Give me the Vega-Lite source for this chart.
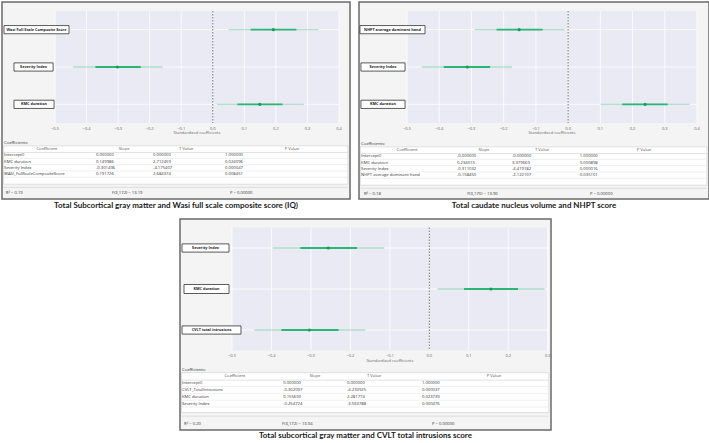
{
"$schema":"https://vega.github.io/schema/vega-lite/v6.json",
"padding":{"left":1,"top":1,"right":0,"bottom":0},
"background":"white",
"spacing":7,
"config":{"view":{"stroke":null},"font":"Open Sans"},
"vconcat":[
{"spacing":7,"hconcat":[
{
"width":348,"height":197,
"view":{"fill":"#f4f4f4","stroke":"#6a6a6a","strokeWidth":1.5},
"title":{"text":"Total Subcortical gray matter and Wasi full scale composite score (IQ)","orient":"bottom","anchor":"middle","font":"Lato","fontSize":8,"fontWeight":"bold","color":"#1a1a1a","offset":3},
"resolve":{"scale":{"x":"independent","y":"independent"}},
"layer":[
{"data":{"values":[
{"label":"Wasi Full Scale Composite Score","pos":1,"coef":0.192,"lo50":0.12,"hi50":0.265,"lo95":0.05,"hi95":0.335},
{"label":"Severity Index","pos":2,"coef":-0.302,"lo50":-0.372,"hi50":-0.228,"lo95":-0.443,"hi95":-0.159},
{"label":"KMC duration","pos":3,"coef":0.149,"lo50":0.078,"hi50":0.221,"lo95":0.013,"hi95":0.289}]},
"layer":[
{"data":{"values":[{}]},"mark":{"type":"rect","color":"#eaeaf4"},"encoding":{"x":{"datum":-0.5,"type":"quantitative","scale":{"domain":[-0.5,0.4],"range":[53,337],"nice":false,"zero":false},"axis":null},"x2":{"datum":0.4},"y":{"datum":0.5,"type":"quantitative","scale":{"domain":[0.5,3.5],"range":[9,121],"nice":false,"zero":false},"axis":null},"y2":{"datum":3.5}}},
{"data":{"values":[{"t":-0.5},{"t":-0.4},{"t":-0.3},{"t":-0.2},{"t":-0.1},{"t":0},{"t":0.1},{"t":0.2},{"t":0.3},{"t":0.4}]},"layer":[
{"mark":{"type":"rule","color":"#ffffff","strokeWidth":0.8},"encoding":{"x":{"field":"t","type":"quantitative","scale":{"domain":[-0.5,0.4],"range":[53,337],"nice":false,"zero":false},"axis":null},"y":{"datum":0.5,"type":"quantitative","scale":{"domain":[0.5,3.5],"range":[9,121],"nice":false,"zero":false},"axis":null},"y2":{"datum":3.5}}},
{"mark":{"type":"text","font":"Open Sans","fontSize":4,"color":"#666666","baseline":"top","dy":3.5},"encoding":{"x":{"field":"t","type":"quantitative","scale":{"domain":[-0.5,0.4],"range":[53,337],"nice":false,"zero":false},"axis":null},"y":{"datum":3.5,"type":"quantitative","scale":{"domain":[0.5,3.5],"range":[9,121],"nice":false,"zero":false},"axis":null},"text":{"field":"t","type":"quantitative","format":".1f"}}}]},
{"data":{"values":[{"txt":"Standardized coefficients"}]},"mark":{"type":"text","font":"Open Sans","fontSize":4,"color":"#666666","baseline":"top","dy":8},"encoding":{"x":{"datum":-0.05,"type":"quantitative","scale":{"domain":[-0.5,0.4],"range":[53,337],"nice":false,"zero":false},"axis":null},"y":{"datum":3.5,"type":"quantitative","scale":{"domain":[0.5,3.5],"range":[9,121],"nice":false,"zero":false},"axis":null},"text":{"field":"txt"}}},
{"mark":{"type":"rule","color":"#ffffff","strokeWidth":0.8},"encoding":{"x":{"datum":-0.5,"type":"quantitative","scale":{"domain":[-0.5,0.4],"range":[53,337],"nice":false,"zero":false},"axis":null},"x2":{"datum":0.4},"y":{"field":"pos","type":"quantitative","scale":{"domain":[0.5,3.5],"range":[9,121],"nice":false,"zero":false},"axis":null}}},
{"data":{"values":[{}]},"mark":{"type":"rule","color":"#555555","strokeWidth":0.8,"strokeDash":[1.5,1.5]},"encoding":{"x":{"datum":0,"type":"quantitative","scale":{"domain":[-0.5,0.4],"range":[53,337],"nice":false,"zero":false},"axis":null},"y":{"datum":0.5,"type":"quantitative","scale":{"domain":[0.5,3.5],"range":[9,121],"nice":false,"zero":false},"axis":null},"y2":{"datum":3.5}}},
{"mark":{"type":"rule","color":"#2bb673","opacity":0.35,"strokeWidth":1.3},"encoding":{"x":{"field":"lo95","type":"quantitative","scale":{"domain":[-0.5,0.4],"range":[53,337],"nice":false,"zero":false},"axis":null},"x2":{"field":"hi95"},"y":{"field":"pos","type":"quantitative","scale":{"domain":[0.5,3.5],"range":[9,121],"nice":false,"zero":false},"axis":null}}},
{"mark":{"type":"rule","color":"#2bb673","strokeWidth":1.8},"encoding":{"x":{"field":"lo50","type":"quantitative","scale":{"domain":[-0.5,0.4],"range":[53,337],"nice":false,"zero":false},"axis":null},"x2":{"field":"hi50"},"y":{"field":"pos","type":"quantitative","scale":{"domain":[0.5,3.5],"range":[9,121],"nice":false,"zero":false},"axis":null}}},
{"mark":{"type":"point","filled":true,"size":10,"opacity":1,"color":"#149d5a"},"encoding":{"x":{"field":"coef","type":"quantitative","scale":{"domain":[-0.5,0.4],"range":[53,337],"nice":false,"zero":false},"axis":null},"y":{"field":"pos","type":"quantitative","scale":{"domain":[0.5,3.5],"range":[9,121],"nice":false,"zero":false},"axis":null}}},
{"transform":[{"filter":"datum.pos == 1"}],"layer":[
{"mark":{"type":"rect","fill":"#ffffff","stroke":"#333333","strokeWidth":0.8},"encoding":{"x":{"datum":-0.6616,"type":"quantitative","scale":{"domain":[-0.5,0.4],"range":[53,337],"nice":false,"zero":false},"axis":null},"x2":{"datum":-0.4556},"y":{"datum":0.89,"type":"quantitative","scale":{"domain":[0.5,3.5],"range":[9,121],"nice":false,"zero":false},"axis":null},"y2":{"datum":1.11}}},
{"mark":{"type":"text","font":"Open Sans","fontSize":3.8,"fontWeight":"bold","color":"#222222","baseline":"middle"},"encoding":{"x":{"datum":-0.5586,"type":"quantitative","scale":{"domain":[-0.5,0.4],"range":[53,337],"nice":false,"zero":false},"axis":null},"y":{"field":"pos","type":"quantitative","scale":{"domain":[0.5,3.5],"range":[9,121],"nice":false,"zero":false},"axis":null},"text":{"field":"label"}}}]},
{"transform":[{"filter":"datum.pos == 2"}],"layer":[
{"mark":{"type":"rect","fill":"#ffffff","stroke":"#333333","strokeWidth":0.8},"encoding":{"x":{"datum":-0.630,"type":"quantitative","scale":{"domain":[-0.5,0.4],"range":[53,337],"nice":false,"zero":false},"axis":null},"x2":{"datum":-0.506},"y":{"datum":1.89,"type":"quantitative","scale":{"domain":[0.5,3.5],"range":[9,121],"nice":false,"zero":false},"axis":null},"y2":{"datum":2.11}}},
{"mark":{"type":"text","font":"Open Sans","fontSize":3.8,"fontWeight":"bold","color":"#222222","baseline":"middle"},"encoding":{"x":{"datum":-0.568,"type":"quantitative","scale":{"domain":[-0.5,0.4],"range":[53,337],"nice":false,"zero":false},"axis":null},"y":{"field":"pos","type":"quantitative","scale":{"domain":[0.5,3.5],"range":[9,121],"nice":false,"zero":false},"axis":null},"text":{"field":"label"}}}]},
{"transform":[{"filter":"datum.pos == 3"}],"layer":[
{"mark":{"type":"rect","fill":"#ffffff","stroke":"#333333","strokeWidth":0.8},"encoding":{"x":{"datum":-0.630,"type":"quantitative","scale":{"domain":[-0.5,0.4],"range":[53,337],"nice":false,"zero":false},"axis":null},"x2":{"datum":-0.503},"y":{"datum":2.89,"type":"quantitative","scale":{"domain":[0.5,3.5],"range":[9,121],"nice":false,"zero":false},"axis":null},"y2":{"datum":3.11}}},
{"mark":{"type":"text","font":"Open Sans","fontSize":3.8,"fontWeight":"bold","color":"#222222","baseline":"middle"},"encoding":{"x":{"datum":-0.5665,"type":"quantitative","scale":{"domain":[-0.5,0.4],"range":[53,337],"nice":false,"zero":false},"axis":null},"y":{"field":"pos","type":"quantitative","scale":{"domain":[0.5,3.5],"range":[9,121],"nice":false,"zero":false},"axis":null},"text":{"field":"label"}}}]}
]},
{"data":{"values":[
{"i":-1,"coefficient":"Coefficients:"},
{"i":0,"coefficient":"Coefficient","slope":"Slope","t":"T Value","p":"P Value"},
{"i":1,"coefficient":"Intercept()","slope":"0.000000","t":"0.000000","p":"1.000000"},
{"i":2,"coefficient":"KMC duration","slope":"0.149986","t":"2.712459","p":"0.024096"},
{"i":3,"coefficient":"Severity Index","slope":"-0.301496","t":"-4.175407","p":"0.000047"},
{"i":4,"coefficient":"WASI_FullScaleCompositeScore","slope":"0.191726","t":"2.684374","p":"0.008451"}]},
"layer":[
{"data":{"values":[{}]},"mark":{"type":"rect","fill":"#ffffff","stroke":"#cccccc","strokeWidth":0.6},"encoding":{"x":{"datum":0.004,"type":"quantitative","scale":{"domain":[0,1],"range":[0,348],"nice":false,"zero":false},"axis":null},"x2":{"datum":0.994},"y":{"datum":-0.5,"type":"quantitative","scale":{"domain":[-1,7],"range":[140.7,191],"nice":false,"zero":false},"axis":null},"y2":{"datum":5.6}}},
{"data":{"values":[{}]},"mark":{"type":"rule","color":"#cfcfcf","strokeWidth":0.6},"encoding":{"x":{"datum":0.004,"type":"quantitative","scale":{"domain":[0,1],"range":[0,348],"nice":false,"zero":false},"axis":null},"x2":{"datum":0.994},"y":{"datum":0.55,"type":"quantitative","scale":{"domain":[-1,7],"range":[140.7,191],"nice":false,"zero":false},"axis":null}}},
{"transform":[{"filter":"datum.i >= 1"}],"mark":{"type":"rule","color":"#e4e4e4","strokeWidth":0.6,"yOffset":3.1},"encoding":{"x":{"datum":0.004,"type":"quantitative","scale":{"domain":[0,1],"range":[0,348],"nice":false,"zero":false},"axis":null},"x2":{"datum":0.994},"y":{"field":"i","type":"quantitative","scale":{"domain":[-1,7],"range":[140.7,191],"nice":false,"zero":false},"axis":null}}},
{"data":{"values":[{}]},"mark":{"type":"rule","color":"#cfcfcf","strokeWidth":0.6},"encoding":{"x":{"datum":0.004,"type":"quantitative","scale":{"domain":[0,1],"range":[0,348],"nice":false,"zero":false},"axis":null},"x2":{"datum":0.994},"y":{"datum":6.1,"type":"quantitative","scale":{"domain":[-1,7],"range":[140.7,191],"nice":false,"zero":false},"axis":null}}},
{"transform":[{"filter":"datum.i != 0"}],"mark":{"type":"text","align":"left","baseline":"middle","font":"Open Sans","fontSize":4.2,"color":"#333333"},"encoding":{"x":{"datum":0.006,"type":"quantitative","scale":{"domain":[0,1],"range":[0,348],"nice":false,"zero":false},"axis":null},"y":{"field":"i","type":"quantitative","scale":{"domain":[-1,7],"range":[140.7,191],"nice":false,"zero":false},"axis":null},"text":{"field":"coefficient"}}},
{"transform":[{"filter":"datum.i > 0"}],"mark":{"type":"text","align":"left","baseline":"middle","font":"Open Sans","fontSize":4.2,"color":"#333333"},"encoding":{"x":{"datum":0.27,"type":"quantitative","scale":{"domain":[0,1],"range":[0,348],"nice":false,"zero":false},"axis":null},"y":{"field":"i","type":"quantitative","scale":{"domain":[-1,7],"range":[140.7,191],"nice":false,"zero":false},"axis":null},"text":{"field":"slope"}}},
{"transform":[{"filter":"datum.i > 0"}],"mark":{"type":"text","align":"left","baseline":"middle","font":"Open Sans","fontSize":4.2,"color":"#333333"},"encoding":{"x":{"datum":0.434,"type":"quantitative","scale":{"domain":[0,1],"range":[0,348],"nice":false,"zero":false},"axis":null},"y":{"field":"i","type":"quantitative","scale":{"domain":[-1,7],"range":[140.7,191],"nice":false,"zero":false},"axis":null},"text":{"field":"t"}}},
{"transform":[{"filter":"datum.i > 0"}],"mark":{"type":"text","align":"left","baseline":"middle","font":"Open Sans","fontSize":4.2,"color":"#333333"},"encoding":{"x":{"datum":0.641,"type":"quantitative","scale":{"domain":[0,1],"range":[0,348],"nice":false,"zero":false},"axis":null},"y":{"field":"i","type":"quantitative","scale":{"domain":[-1,7],"range":[140.7,191],"nice":false,"zero":false},"axis":null},"text":{"field":"p"}}},
{"transform":[{"filter":"datum.i == 0"}],"mark":{"type":"text","align":"center","baseline":"middle","font":"Open Sans","fontSize":4.2,"color":"#555555"},"encoding":{"x":{"datum":0.129,"type":"quantitative","scale":{"domain":[0,1],"range":[0,348],"nice":false,"zero":false},"axis":null},"y":{"field":"i","type":"quantitative","scale":{"domain":[-1,7],"range":[140.7,191],"nice":false,"zero":false},"axis":null},"text":{"field":"coefficient"}}},
{"transform":[{"filter":"datum.i == 0"}],"mark":{"type":"text","align":"center","baseline":"middle","font":"Open Sans","fontSize":4.2,"color":"#555555"},"encoding":{"x":{"datum":0.351,"type":"quantitative","scale":{"domain":[0,1],"range":[0,348],"nice":false,"zero":false},"axis":null},"y":{"field":"i","type":"quantitative","scale":{"domain":[-1,7],"range":[140.7,191],"nice":false,"zero":false},"axis":null},"text":{"field":"slope"}}},
{"transform":[{"filter":"datum.i == 0"}],"mark":{"type":"text","align":"center","baseline":"middle","font":"Open Sans","fontSize":4.2,"color":"#555555"},"encoding":{"x":{"datum":0.529,"type":"quantitative","scale":{"domain":[0,1],"range":[0,348],"nice":false,"zero":false},"axis":null},"y":{"field":"i","type":"quantitative","scale":{"domain":[-1,7],"range":[140.7,191],"nice":false,"zero":false},"axis":null},"text":{"field":"t"}}},
{"transform":[{"filter":"datum.i == 0"}],"mark":{"type":"text","align":"center","baseline":"middle","font":"Open Sans","fontSize":4.2,"color":"#555555"},"encoding":{"x":{"datum":0.833,"type":"quantitative","scale":{"domain":[0,1],"range":[0,348],"nice":false,"zero":false},"axis":null},"y":{"field":"i","type":"quantitative","scale":{"domain":[-1,7],"range":[140.7,191],"nice":false,"zero":false},"axis":null},"text":{"field":"p"}}},
{"data":{"values":[{"txt":"R² = 0.19"}]},"mark":{"type":"text","align":"left","baseline":"middle","font":"Open Sans","fontSize":4.2,"color":"#333333"},"encoding":{"x":{"datum":0.011,"type":"quantitative","scale":{"domain":[0,1],"range":[0,348],"nice":false,"zero":false},"axis":null},"y":{"datum":7,"type":"quantitative","scale":{"domain":[-1,7],"range":[140.7,191],"nice":false,"zero":false},"axis":null},"text":{"field":"txt"}}},
{"data":{"values":[{"txt":"F(3,172) = 13.19"}]},"mark":{"type":"text","align":"left","baseline":"middle","font":"Open Sans","fontSize":4.2,"color":"#333333"},"encoding":{"x":{"datum":0.316,"type":"quantitative","scale":{"domain":[0,1],"range":[0,348],"nice":false,"zero":false},"axis":null},"y":{"datum":7,"type":"quantitative","scale":{"domain":[-1,7],"range":[140.7,191],"nice":false,"zero":false},"axis":null},"text":{"field":"txt"}}},
{"data":{"values":[{"txt":"P = 0.00000"}]},"mark":{"type":"text","align":"left","baseline":"middle","font":"Open Sans","fontSize":4.2,"color":"#333333"},"encoding":{"x":{"datum":0.655,"type":"quantitative","scale":{"domain":[0,1],"range":[0,348],"nice":false,"zero":false},"axis":null},"y":{"datum":7,"type":"quantitative","scale":{"domain":[-1,7],"range":[140.7,191],"nice":false,"zero":false},"axis":null},"text":{"field":"txt"}}}
]}
]
},
{
"width":350,"height":197,
"view":{"fill":"#f4f4f4","stroke":"#6a6a6a","strokeWidth":1.5},
"title":{"text":"Total caudate nucleus volume and NHPT score","orient":"bottom","anchor":"middle","font":"Lato","fontSize":8,"fontWeight":"bold","color":"#1a1a1a","offset":3},
"resolve":{"scale":{"x":"independent","y":"independent"}},
"layer":[
{"data":{"values":[
{"label":"NHPT average dominant hand","pos":1,"coef":-0.152,"lo50":-0.222,"hi50":-0.079,"lo95":-0.29,"hi95":-0.011},
{"label":"Severity Index","pos":2,"coef":-0.313,"lo50":-0.386,"hi50":-0.242,"lo95":-0.454,"hi95":-0.174},
{"label":"KMC duration","pos":3,"coef":0.239,"lo50":0.168,"hi50":0.309,"lo95":0.101,"hi95":0.377}]},
"layer":[
{"data":{"values":[{}]},"mark":{"type":"rect","color":"#eaeaf4"},"encoding":{"x":{"datum":-0.5,"type":"quantitative","scale":{"domain":[-0.5,0.4],"range":[48,338],"nice":false,"zero":false},"axis":null},"x2":{"datum":0.4},"y":{"datum":0.5,"type":"quantitative","scale":{"domain":[0.5,3.5],"range":[9,121],"nice":false,"zero":false},"axis":null},"y2":{"datum":3.5}}},
{"data":{"values":[{"t":-0.5},{"t":-0.4},{"t":-0.3},{"t":-0.2},{"t":-0.1},{"t":0},{"t":0.1},{"t":0.2},{"t":0.3},{"t":0.4}]},"layer":[
{"mark":{"type":"rule","color":"#ffffff","strokeWidth":0.8},"encoding":{"x":{"field":"t","type":"quantitative","scale":{"domain":[-0.5,0.4],"range":[48,338],"nice":false,"zero":false},"axis":null},"y":{"datum":0.5,"type":"quantitative","scale":{"domain":[0.5,3.5],"range":[9,121],"nice":false,"zero":false},"axis":null},"y2":{"datum":3.5}}},
{"mark":{"type":"text","font":"Open Sans","fontSize":4,"color":"#666666","baseline":"top","dy":3.5},"encoding":{"x":{"field":"t","type":"quantitative","scale":{"domain":[-0.5,0.4],"range":[48,338],"nice":false,"zero":false},"axis":null},"y":{"datum":3.5,"type":"quantitative","scale":{"domain":[0.5,3.5],"range":[9,121],"nice":false,"zero":false},"axis":null},"text":{"field":"t","type":"quantitative","format":".1f"}}}]},
{"data":{"values":[{"txt":"Standardized coefficients"}]},"mark":{"type":"text","font":"Open Sans","fontSize":4,"color":"#666666","baseline":"top","dy":8},"encoding":{"x":{"datum":-0.05,"type":"quantitative","scale":{"domain":[-0.5,0.4],"range":[48,338],"nice":false,"zero":false},"axis":null},"y":{"datum":3.5,"type":"quantitative","scale":{"domain":[0.5,3.5],"range":[9,121],"nice":false,"zero":false},"axis":null},"text":{"field":"txt"}}},
{"mark":{"type":"rule","color":"#ffffff","strokeWidth":0.8},"encoding":{"x":{"datum":-0.5,"type":"quantitative","scale":{"domain":[-0.5,0.4],"range":[48,338],"nice":false,"zero":false},"axis":null},"x2":{"datum":0.4},"y":{"field":"pos","type":"quantitative","scale":{"domain":[0.5,3.5],"range":[9,121],"nice":false,"zero":false},"axis":null}}},
{"data":{"values":[{}]},"mark":{"type":"rule","color":"#555555","strokeWidth":0.8,"strokeDash":[1.5,1.5]},"encoding":{"x":{"datum":0,"type":"quantitative","scale":{"domain":[-0.5,0.4],"range":[48,338],"nice":false,"zero":false},"axis":null},"y":{"datum":0.5,"type":"quantitative","scale":{"domain":[0.5,3.5],"range":[9,121],"nice":false,"zero":false},"axis":null},"y2":{"datum":3.5}}},
{"mark":{"type":"rule","color":"#2bb673","opacity":0.35,"strokeWidth":1.3},"encoding":{"x":{"field":"lo95","type":"quantitative","scale":{"domain":[-0.5,0.4],"range":[48,338],"nice":false,"zero":false},"axis":null},"x2":{"field":"hi95"},"y":{"field":"pos","type":"quantitative","scale":{"domain":[0.5,3.5],"range":[9,121],"nice":false,"zero":false},"axis":null}}},
{"mark":{"type":"rule","color":"#2bb673","strokeWidth":1.8},"encoding":{"x":{"field":"lo50","type":"quantitative","scale":{"domain":[-0.5,0.4],"range":[48,338],"nice":false,"zero":false},"axis":null},"x2":{"field":"hi50"},"y":{"field":"pos","type":"quantitative","scale":{"domain":[0.5,3.5],"range":[9,121],"nice":false,"zero":false},"axis":null}}},
{"mark":{"type":"point","filled":true,"size":10,"opacity":1,"color":"#149d5a"},"encoding":{"x":{"field":"coef","type":"quantitative","scale":{"domain":[-0.5,0.4],"range":[48,338],"nice":false,"zero":false},"axis":null},"y":{"field":"pos","type":"quantitative","scale":{"domain":[0.5,3.5],"range":[9,121],"nice":false,"zero":false},"axis":null}}},
{"transform":[{"filter":"datum.pos == 1"}],"layer":[
{"mark":{"type":"rect","fill":"#ffffff","stroke":"#333333","strokeWidth":0.8},"encoding":{"x":{"datum":-0.646,"type":"quantitative","scale":{"domain":[-0.5,0.4],"range":[48,338],"nice":false,"zero":false},"axis":null},"x2":{"datum":-0.444},"y":{"datum":0.89,"type":"quantitative","scale":{"domain":[0.5,3.5],"range":[9,121],"nice":false,"zero":false},"axis":null},"y2":{"datum":1.11}}},
{"mark":{"type":"text","font":"Open Sans","fontSize":3.8,"fontWeight":"bold","color":"#222222","baseline":"middle"},"encoding":{"x":{"datum":-0.545,"type":"quantitative","scale":{"domain":[-0.5,0.4],"range":[48,338],"nice":false,"zero":false},"axis":null},"y":{"field":"pos","type":"quantitative","scale":{"domain":[0.5,3.5],"range":[9,121],"nice":false,"zero":false},"axis":null},"text":{"field":"label"}}}]},
{"transform":[{"filter":"datum.pos == 2"}],"layer":[
{"mark":{"type":"rect","fill":"#ffffff","stroke":"#333333","strokeWidth":0.8},"encoding":{"x":{"datum":-0.643,"type":"quantitative","scale":{"domain":[-0.5,0.4],"range":[48,338],"nice":false,"zero":false},"axis":null},"x2":{"datum":-0.506},"y":{"datum":1.89,"type":"quantitative","scale":{"domain":[0.5,3.5],"range":[9,121],"nice":false,"zero":false},"axis":null},"y2":{"datum":2.11}}},
{"mark":{"type":"text","font":"Open Sans","fontSize":3.8,"fontWeight":"bold","color":"#222222","baseline":"middle"},"encoding":{"x":{"datum":-0.5745,"type":"quantitative","scale":{"domain":[-0.5,0.4],"range":[48,338],"nice":false,"zero":false},"axis":null},"y":{"field":"pos","type":"quantitative","scale":{"domain":[0.5,3.5],"range":[9,121],"nice":false,"zero":false},"axis":null},"text":{"field":"label"}}}]},
{"transform":[{"filter":"datum.pos == 3"}],"layer":[
{"mark":{"type":"rect","fill":"#ffffff","stroke":"#333333","strokeWidth":0.8},"encoding":{"x":{"datum":-0.643,"type":"quantitative","scale":{"domain":[-0.5,0.4],"range":[48,338],"nice":false,"zero":false},"axis":null},"x2":{"datum":-0.506},"y":{"datum":2.89,"type":"quantitative","scale":{"domain":[0.5,3.5],"range":[9,121],"nice":false,"zero":false},"axis":null},"y2":{"datum":3.11}}},
{"mark":{"type":"text","font":"Open Sans","fontSize":3.8,"fontWeight":"bold","color":"#222222","baseline":"middle"},"encoding":{"x":{"datum":-0.5745,"type":"quantitative","scale":{"domain":[-0.5,0.4],"range":[48,338],"nice":false,"zero":false},"axis":null},"y":{"field":"pos","type":"quantitative","scale":{"domain":[0.5,3.5],"range":[9,121],"nice":false,"zero":false},"axis":null},"text":{"field":"label"}}}]}
]},
{"data":{"values":[
{"i":-1,"coefficient":"Coefficients:"},
{"i":0,"coefficient":"Coefficient","slope":"Slope","t":"T Value","p":"P Value"},
{"i":1,"coefficient":"Intercept()","slope":"-0.000000","t":"-0.000000","p":"1.000000"},
{"i":2,"coefficient":"KMC duration","slope":"0.234015","t":"3.379669","p":"0.000898"},
{"i":3,"coefficient":"Severity Index","slope":"-0.311032","t":"-4.419182","p":"0.000016"},
{"i":4,"coefficient":"NHPT average dominant hand","slope":"-0.158450","t":"-2.122107","p":"0.035101"}]},
"layer":[
{"data":{"values":[{}]},"mark":{"type":"rect","fill":"#ffffff","stroke":"#cccccc","strokeWidth":0.6},"encoding":{"x":{"datum":0.004,"type":"quantitative","scale":{"domain":[0,1],"range":[0,350],"nice":false,"zero":false},"axis":null},"x2":{"datum":0.994},"y":{"datum":-0.5,"type":"quantitative","scale":{"domain":[-1,7],"range":[141.7,192],"nice":false,"zero":false},"axis":null},"y2":{"datum":5.6}}},
{"data":{"values":[{}]},"mark":{"type":"rule","color":"#cfcfcf","strokeWidth":0.6},"encoding":{"x":{"datum":0.004,"type":"quantitative","scale":{"domain":[0,1],"range":[0,350],"nice":false,"zero":false},"axis":null},"x2":{"datum":0.994},"y":{"datum":0.55,"type":"quantitative","scale":{"domain":[-1,7],"range":[141.7,192],"nice":false,"zero":false},"axis":null}}},
{"transform":[{"filter":"datum.i >= 1"}],"mark":{"type":"rule","color":"#e4e4e4","strokeWidth":0.6,"yOffset":3.1},"encoding":{"x":{"datum":0.004,"type":"quantitative","scale":{"domain":[0,1],"range":[0,350],"nice":false,"zero":false},"axis":null},"x2":{"datum":0.994},"y":{"field":"i","type":"quantitative","scale":{"domain":[-1,7],"range":[141.7,192],"nice":false,"zero":false},"axis":null}}},
{"data":{"values":[{}]},"mark":{"type":"rule","color":"#cfcfcf","strokeWidth":0.6},"encoding":{"x":{"datum":0.004,"type":"quantitative","scale":{"domain":[0,1],"range":[0,350],"nice":false,"zero":false},"axis":null},"x2":{"datum":0.994},"y":{"datum":6.1,"type":"quantitative","scale":{"domain":[-1,7],"range":[141.7,192],"nice":false,"zero":false},"axis":null}}},
{"transform":[{"filter":"datum.i != 0"}],"mark":{"type":"text","align":"left","baseline":"middle","font":"Open Sans","fontSize":4.2,"color":"#333333"},"encoding":{"x":{"datum":0.006,"type":"quantitative","scale":{"domain":[0,1],"range":[0,350],"nice":false,"zero":false},"axis":null},"y":{"field":"i","type":"quantitative","scale":{"domain":[-1,7],"range":[141.7,192],"nice":false,"zero":false},"axis":null},"text":{"field":"coefficient"}}},
{"transform":[{"filter":"datum.i > 0"}],"mark":{"type":"text","align":"left","baseline":"middle","font":"Open Sans","fontSize":4.2,"color":"#333333"},"encoding":{"x":{"datum":0.28,"type":"quantitative","scale":{"domain":[0,1],"range":[0,350],"nice":false,"zero":false},"axis":null},"y":{"field":"i","type":"quantitative","scale":{"domain":[-1,7],"range":[141.7,192],"nice":false,"zero":false},"axis":null},"text":{"field":"slope"}}},
{"transform":[{"filter":"datum.i > 0"}],"mark":{"type":"text","align":"left","baseline":"middle","font":"Open Sans","fontSize":4.2,"color":"#333333"},"encoding":{"x":{"datum":0.437,"type":"quantitative","scale":{"domain":[0,1],"range":[0,350],"nice":false,"zero":false},"axis":null},"y":{"field":"i","type":"quantitative","scale":{"domain":[-1,7],"range":[141.7,192],"nice":false,"zero":false},"axis":null},"text":{"field":"t"}}},
{"transform":[{"filter":"datum.i > 0"}],"mark":{"type":"text","align":"left","baseline":"middle","font":"Open Sans","fontSize":4.2,"color":"#333333"},"encoding":{"x":{"datum":0.631,"type":"quantitative","scale":{"domain":[0,1],"range":[0,350],"nice":false,"zero":false},"axis":null},"y":{"field":"i","type":"quantitative","scale":{"domain":[-1,7],"range":[141.7,192],"nice":false,"zero":false},"axis":null},"text":{"field":"p"}}},
{"transform":[{"filter":"datum.i == 0"}],"mark":{"type":"text","align":"center","baseline":"middle","font":"Open Sans","fontSize":4.2,"color":"#555555"},"encoding":{"x":{"datum":0.137,"type":"quantitative","scale":{"domain":[0,1],"range":[0,350],"nice":false,"zero":false},"axis":null},"y":{"field":"i","type":"quantitative","scale":{"domain":[-1,7],"range":[141.7,192],"nice":false,"zero":false},"axis":null},"text":{"field":"coefficient"}}},
{"transform":[{"filter":"datum.i == 0"}],"mark":{"type":"text","align":"center","baseline":"middle","font":"Open Sans","fontSize":4.2,"color":"#555555"},"encoding":{"x":{"datum":0.357,"type":"quantitative","scale":{"domain":[0,1],"range":[0,350],"nice":false,"zero":false},"axis":null},"y":{"field":"i","type":"quantitative","scale":{"domain":[-1,7],"range":[141.7,192],"nice":false,"zero":false},"axis":null},"text":{"field":"slope"}}},
{"transform":[{"filter":"datum.i == 0"}],"mark":{"type":"text","align":"center","baseline":"middle","font":"Open Sans","fontSize":4.2,"color":"#555555"},"encoding":{"x":{"datum":0.523,"type":"quantitative","scale":{"domain":[0,1],"range":[0,350],"nice":false,"zero":false},"axis":null},"y":{"field":"i","type":"quantitative","scale":{"domain":[-1,7],"range":[141.7,192],"nice":false,"zero":false},"axis":null},"text":{"field":"t"}}},
{"transform":[{"filter":"datum.i == 0"}],"mark":{"type":"text","align":"center","baseline":"middle","font":"Open Sans","fontSize":4.2,"color":"#555555"},"encoding":{"x":{"datum":0.814,"type":"quantitative","scale":{"domain":[0,1],"range":[0,350],"nice":false,"zero":false},"axis":null},"y":{"field":"i","type":"quantitative","scale":{"domain":[-1,7],"range":[141.7,192],"nice":false,"zero":false},"axis":null},"text":{"field":"p"}}},
{"data":{"values":[{"txt":"R² = 0.18"}]},"mark":{"type":"text","align":"left","baseline":"middle","font":"Open Sans","fontSize":4.2,"color":"#333333"},"encoding":{"x":{"datum":0.014,"type":"quantitative","scale":{"domain":[0,1],"range":[0,350],"nice":false,"zero":false},"axis":null},"y":{"datum":7,"type":"quantitative","scale":{"domain":[-1,7],"range":[141.7,192],"nice":false,"zero":false},"axis":null},"text":{"field":"txt"}}},
{"data":{"values":[{"txt":"F(3,170) = 13.90"}]},"mark":{"type":"text","align":"left","baseline":"middle","font":"Open Sans","fontSize":4.2,"color":"#333333"},"encoding":{"x":{"datum":0.309,"type":"quantitative","scale":{"domain":[0,1],"range":[0,350],"nice":false,"zero":false},"axis":null},"y":{"datum":7,"type":"quantitative","scale":{"domain":[-1,7],"range":[141.7,192],"nice":false,"zero":false},"axis":null},"text":{"field":"txt"}}},
{"data":{"values":[{"txt":"P = 0.00000"}]},"mark":{"type":"text","align":"left","baseline":"middle","font":"Open Sans","fontSize":4.2,"color":"#333333"},"encoding":{"x":{"datum":0.66,"type":"quantitative","scale":{"domain":[0,1],"range":[0,350],"nice":false,"zero":false},"axis":null},"y":{"datum":7,"type":"quantitative","scale":{"domain":[-1,7],"range":[141.7,192],"nice":false,"zero":false},"axis":null},"text":{"field":"txt"}}}
]}
]
}
]},
{"spacing":1,"hconcat":[
{"width":176,"height":5,"data":{"values":[{}]},"mark":{"type":"point","opacity":0},"encoding":{}},
{
"width":371,"height":211,
"view":{"fill":"#f4f4f4","stroke":"#6a6a6a","strokeWidth":1.5},
"title":{"text":"Total subcortical gray matter and CVLT total intrusions score","orient":"bottom","anchor":"middle","font":"Lato","fontSize":8,"fontWeight":"bold","color":"#1a1a1a","offset":2},
"resolve":{"scale":{"x":"independent","y":"independent"}},
"layer":[
{"data":{"values":[
{"label":"Severity Index","pos":1,"coef":-0.256,"lo50":-0.327,"hi50":-0.183,"lo95":-0.397,"hi95":-0.114},
{"label":"KMC duration","pos":2,"coef":0.156,"lo50":0.088,"hi50":0.225,"lo95":0.021,"hi95":0.292},
{"label":"CVLT total intrusions","pos":3,"coef":-0.304,"lo50":-0.375,"hi50":-0.23,"lo95":-0.444,"hi95":-0.162}]},
"layer":[
{"data":{"values":[{}]},"mark":{"type":"rect","color":"#eaeaf4"},"encoding":{"x":{"datum":-0.5,"type":"quantitative","scale":{"domain":[-0.5,0.3],"range":[52,367.7],"nice":false,"zero":false},"axis":null},"x2":{"datum":0.3},"y":{"datum":0.5,"type":"quantitative","scale":{"domain":[0.5,3.5],"range":[8.5,131.5],"nice":false,"zero":false},"axis":null},"y2":{"datum":3.5}}},
{"data":{"values":[{"t":-0.5},{"t":-0.4},{"t":-0.3},{"t":-0.2},{"t":-0.1},{"t":0},{"t":0.1},{"t":0.2},{"t":0.3}]},"layer":[
{"mark":{"type":"rule","color":"#ffffff","strokeWidth":0.8},"encoding":{"x":{"field":"t","type":"quantitative","scale":{"domain":[-0.5,0.3],"range":[52,367.7],"nice":false,"zero":false},"axis":null},"y":{"datum":0.5,"type":"quantitative","scale":{"domain":[0.5,3.5],"range":[8.5,131.5],"nice":false,"zero":false},"axis":null},"y2":{"datum":3.5}}},
{"mark":{"type":"text","font":"Open Sans","fontSize":4,"color":"#666666","baseline":"top","dy":3.5},"encoding":{"x":{"field":"t","type":"quantitative","scale":{"domain":[-0.5,0.3],"range":[52,367.7],"nice":false,"zero":false},"axis":null},"y":{"datum":3.5,"type":"quantitative","scale":{"domain":[0.5,3.5],"range":[8.5,131.5],"nice":false,"zero":false},"axis":null},"text":{"field":"t","type":"quantitative","format":".1f"}}}]},
{"data":{"values":[{"txt":"Standardized coefficients"}]},"mark":{"type":"text","font":"Open Sans","fontSize":4,"color":"#666666","baseline":"top","dy":8},"encoding":{"x":{"datum":-0.1,"type":"quantitative","scale":{"domain":[-0.5,0.3],"range":[52,367.7],"nice":false,"zero":false},"axis":null},"y":{"datum":3.5,"type":"quantitative","scale":{"domain":[0.5,3.5],"range":[8.5,131.5],"nice":false,"zero":false},"axis":null},"text":{"field":"txt"}}},
{"mark":{"type":"rule","color":"#ffffff","strokeWidth":0.8},"encoding":{"x":{"datum":-0.5,"type":"quantitative","scale":{"domain":[-0.5,0.3],"range":[52,367.7],"nice":false,"zero":false},"axis":null},"x2":{"datum":0.3},"y":{"field":"pos","type":"quantitative","scale":{"domain":[0.5,3.5],"range":[8.5,131.5],"nice":false,"zero":false},"axis":null}}},
{"data":{"values":[{}]},"mark":{"type":"rule","color":"#555555","strokeWidth":0.8,"strokeDash":[1.5,1.5]},"encoding":{"x":{"datum":0,"type":"quantitative","scale":{"domain":[-0.5,0.3],"range":[52,367.7],"nice":false,"zero":false},"axis":null},"y":{"datum":0.5,"type":"quantitative","scale":{"domain":[0.5,3.5],"range":[8.5,131.5],"nice":false,"zero":false},"axis":null},"y2":{"datum":3.5}}},
{"mark":{"type":"rule","color":"#2bb673","opacity":0.35,"strokeWidth":1.3},"encoding":{"x":{"field":"lo95","type":"quantitative","scale":{"domain":[-0.5,0.3],"range":[52,367.7],"nice":false,"zero":false},"axis":null},"x2":{"field":"hi95"},"y":{"field":"pos","type":"quantitative","scale":{"domain":[0.5,3.5],"range":[8.5,131.5],"nice":false,"zero":false},"axis":null}}},
{"mark":{"type":"rule","color":"#2bb673","strokeWidth":1.8},"encoding":{"x":{"field":"lo50","type":"quantitative","scale":{"domain":[-0.5,0.3],"range":[52,367.7],"nice":false,"zero":false},"axis":null},"x2":{"field":"hi50"},"y":{"field":"pos","type":"quantitative","scale":{"domain":[0.5,3.5],"range":[8.5,131.5],"nice":false,"zero":false},"axis":null}}},
{"mark":{"type":"point","filled":true,"size":10,"opacity":1,"color":"#149d5a"},"encoding":{"x":{"field":"coef","type":"quantitative","scale":{"domain":[-0.5,0.3],"range":[52,367.7],"nice":false,"zero":false},"axis":null},"y":{"field":"pos","type":"quantitative","scale":{"domain":[0.5,3.5],"range":[8.5,131.5],"nice":false,"zero":false},"axis":null}}},
{"transform":[{"filter":"datum.pos == 1"}],"layer":[
{"mark":{"type":"rect","fill":"#ffffff","stroke":"#333333","strokeWidth":0.8},"encoding":{"x":{"datum":-0.6267,"type":"quantitative","scale":{"domain":[-0.5,0.3],"range":[52,367.7],"nice":false,"zero":false},"axis":null},"x2":{"datum":-0.5076},"y":{"datum":0.9,"type":"quantitative","scale":{"domain":[0.5,3.5],"range":[8.5,131.5],"nice":false,"zero":false},"axis":null},"y2":{"datum":1.1}}},
{"mark":{"type":"text","font":"Open Sans","fontSize":3.8,"fontWeight":"bold","color":"#222222","baseline":"middle"},"encoding":{"x":{"datum":-0.567,"type":"quantitative","scale":{"domain":[-0.5,0.3],"range":[52,367.7],"nice":false,"zero":false},"axis":null},"y":{"field":"pos","type":"quantitative","scale":{"domain":[0.5,3.5],"range":[8.5,131.5],"nice":false,"zero":false},"axis":null},"text":{"field":"label"}}}]},
{"transform":[{"filter":"datum.pos == 2"}],"layer":[
{"mark":{"type":"rect","fill":"#ffffff","stroke":"#333333","strokeWidth":0.8},"encoding":{"x":{"datum":-0.6216,"type":"quantitative","scale":{"domain":[-0.5,0.3],"range":[52,367.7],"nice":false,"zero":false},"axis":null},"x2":{"datum":-0.5076},"y":{"datum":1.89,"type":"quantitative","scale":{"domain":[0.5,3.5],"range":[8.5,131.5],"nice":false,"zero":false},"axis":null},"y2":{"datum":2.11}}},
{"mark":{"type":"text","font":"Open Sans","fontSize":3.8,"fontWeight":"bold","color":"#222222","baseline":"middle"},"encoding":{"x":{"datum":-0.5646,"type":"quantitative","scale":{"domain":[-0.5,0.3],"range":[52,367.7],"nice":false,"zero":false},"axis":null},"y":{"field":"pos","type":"quantitative","scale":{"domain":[0.5,3.5],"range":[8.5,131.5],"nice":false,"zero":false},"axis":null},"text":{"field":"label"}}}]},
{"transform":[{"filter":"datum.pos == 3"}],"layer":[
{"mark":{"type":"rect","fill":"#ffffff","stroke":"#333333","strokeWidth":0.8},"encoding":{"x":{"datum":-0.6267,"type":"quantitative","scale":{"domain":[-0.5,0.3],"range":[52,367.7],"nice":false,"zero":false},"axis":null},"x2":{"datum":-0.4772},"y":{"datum":2.9,"type":"quantitative","scale":{"domain":[0.5,3.5],"range":[8.5,131.5],"nice":false,"zero":false},"axis":null},"y2":{"datum":3.1}}},
{"mark":{"type":"text","font":"Open Sans","fontSize":3.8,"fontWeight":"bold","color":"#222222","baseline":"middle"},"encoding":{"x":{"datum":-0.552,"type":"quantitative","scale":{"domain":[-0.5,0.3],"range":[52,367.7],"nice":false,"zero":false},"axis":null},"y":{"field":"pos","type":"quantitative","scale":{"domain":[0.5,3.5],"range":[8.5,131.5],"nice":false,"zero":false},"axis":null},"text":{"field":"label"}}}]}
]},
{"data":{"values":[
{"i":-1,"coefficient":"Coefficients:"},
{"i":0,"coefficient":"Coefficient","slope":"Slope","t":"T Value","p":"P Value"},
{"i":1,"coefficient":"Intercept()","slope":"0.000000","t":"0.000000","p":"1.000000"},
{"i":2,"coefficient":"CVLT_TotalIntrusions","slope":"-0.302097","t":"-4.233925","p":"0.000037"},
{"i":3,"coefficient":"KMC duration","slope":"0.155693","t":"2.281774","p":"0.023739"},
{"i":4,"coefficient":"Severity Index","slope":"-0.254724","t":"-3.563788","p":"0.000476"}]},
"layer":[
{"data":{"values":[{}]},"mark":{"type":"rect","fill":"#ffffff","stroke":"#cccccc","strokeWidth":0.6},"encoding":{"x":{"datum":0.004,"type":"quantitative","scale":{"domain":[0,1],"range":[0,371],"nice":false,"zero":false},"axis":null},"x2":{"datum":0.994},"y":{"datum":-0.55,"type":"quantitative","scale":{"domain":[-1,7],"range":[150.6,205],"nice":false,"zero":false},"axis":null},"y2":{"datum":5.3}}},
{"data":{"values":[{}]},"mark":{"type":"rule","color":"#cfcfcf","strokeWidth":0.6},"encoding":{"x":{"datum":0.004,"type":"quantitative","scale":{"domain":[0,1],"range":[0,371],"nice":false,"zero":false},"axis":null},"x2":{"datum":0.994},"y":{"datum":0.55,"type":"quantitative","scale":{"domain":[-1,7],"range":[150.6,205],"nice":false,"zero":false},"axis":null}}},
{"transform":[{"filter":"datum.i >= 1"}],"mark":{"type":"rule","color":"#e4e4e4","strokeWidth":0.6,"yOffset":3.4},"encoding":{"x":{"datum":0.004,"type":"quantitative","scale":{"domain":[0,1],"range":[0,371],"nice":false,"zero":false},"axis":null},"x2":{"datum":0.994},"y":{"field":"i","type":"quantitative","scale":{"domain":[-1,7],"range":[150.6,205],"nice":false,"zero":false},"axis":null}}},
{"data":{"values":[{}]},"mark":{"type":"rule","color":"#cfcfcf","strokeWidth":0.6},"encoding":{"x":{"datum":0.004,"type":"quantitative","scale":{"domain":[0,1],"range":[0,371],"nice":false,"zero":false},"axis":null},"x2":{"datum":0.994},"y":{"datum":5.85,"type":"quantitative","scale":{"domain":[-1,7],"range":[150.6,205],"nice":false,"zero":false},"axis":null}}},
{"transform":[{"filter":"datum.i != 0"}],"mark":{"type":"text","align":"left","baseline":"middle","font":"Open Sans","fontSize":4.2,"color":"#333333"},"encoding":{"x":{"datum":0.0054,"type":"quantitative","scale":{"domain":[0,1],"range":[0,371],"nice":false,"zero":false},"axis":null},"y":{"field":"i","type":"quantitative","scale":{"domain":[-1,7],"range":[150.6,205],"nice":false,"zero":false},"axis":null},"text":{"field":"coefficient"}}},
{"transform":[{"filter":"datum.i > 0"}],"mark":{"type":"text","align":"left","baseline":"middle","font":"Open Sans","fontSize":4.2,"color":"#333333"},"encoding":{"x":{"datum":0.278,"type":"quantitative","scale":{"domain":[0,1],"range":[0,371],"nice":false,"zero":false},"axis":null},"y":{"field":"i","type":"quantitative","scale":{"domain":[-1,7],"range":[150.6,205],"nice":false,"zero":false},"axis":null},"text":{"field":"slope"}}},
{"transform":[{"filter":"datum.i > 0"}],"mark":{"type":"text","align":"left","baseline":"middle","font":"Open Sans","fontSize":4.2,"color":"#333333"},"encoding":{"x":{"datum":0.45,"type":"quantitative","scale":{"domain":[0,1],"range":[0,371],"nice":false,"zero":false},"axis":null},"y":{"field":"i","type":"quantitative","scale":{"domain":[-1,7],"range":[150.6,205],"nice":false,"zero":false},"axis":null},"text":{"field":"t"}}},
{"transform":[{"filter":"datum.i > 0"}],"mark":{"type":"text","align":"left","baseline":"middle","font":"Open Sans","fontSize":4.2,"color":"#333333"},"encoding":{"x":{"datum":0.652,"type":"quantitative","scale":{"domain":[0,1],"range":[0,371],"nice":false,"zero":false},"axis":null},"y":{"field":"i","type":"quantitative","scale":{"domain":[-1,7],"range":[150.6,205],"nice":false,"zero":false},"axis":null},"text":{"field":"p"}}},
{"transform":[{"filter":"datum.i == 0"}],"mark":{"type":"text","align":"center","baseline":"middle","font":"Open Sans","fontSize":4.2,"color":"#555555"},"encoding":{"x":{"datum":0.148,"type":"quantitative","scale":{"domain":[0,1],"range":[0,371],"nice":false,"zero":false},"axis":null},"y":{"field":"i","type":"quantitative","scale":{"domain":[-1,7],"range":[150.6,205],"nice":false,"zero":false},"axis":null},"text":{"field":"coefficient"}}},
{"transform":[{"filter":"datum.i == 0"}],"mark":{"type":"text","align":"center","baseline":"middle","font":"Open Sans","fontSize":4.2,"color":"#555555"},"encoding":{"x":{"datum":0.364,"type":"quantitative","scale":{"domain":[0,1],"range":[0,371],"nice":false,"zero":false},"axis":null},"y":{"field":"i","type":"quantitative","scale":{"domain":[-1,7],"range":[150.6,205],"nice":false,"zero":false},"axis":null},"text":{"field":"slope"}}},
{"transform":[{"filter":"datum.i == 0"}],"mark":{"type":"text","align":"center","baseline":"middle","font":"Open Sans","fontSize":4.2,"color":"#555555"},"encoding":{"x":{"datum":0.523,"type":"quantitative","scale":{"domain":[0,1],"range":[0,371],"nice":false,"zero":false},"axis":null},"y":{"field":"i","type":"quantitative","scale":{"domain":[-1,7],"range":[150.6,205],"nice":false,"zero":false},"axis":null},"text":{"field":"t"}}},
{"transform":[{"filter":"datum.i == 0"}],"mark":{"type":"text","align":"center","baseline":"middle","font":"Open Sans","fontSize":4.2,"color":"#555555"},"encoding":{"x":{"datum":0.846,"type":"quantitative","scale":{"domain":[0,1],"range":[0,371],"nice":false,"zero":false},"axis":null},"y":{"field":"i","type":"quantitative","scale":{"domain":[-1,7],"range":[150.6,205],"nice":false,"zero":false},"axis":null},"text":{"field":"p"}}},
{"data":{"values":[{"txt":"R² = 0.20"}]},"mark":{"type":"text","align":"left","baseline":"middle","font":"Open Sans","fontSize":4.2,"color":"#333333"},"encoding":{"x":{"datum":0.011,"type":"quantitative","scale":{"domain":[0,1],"range":[0,371],"nice":false,"zero":false},"axis":null},"y":{"datum":7,"type":"quantitative","scale":{"domain":[-1,7],"range":[150.6,205],"nice":false,"zero":false},"axis":null},"text":{"field":"txt"}}},
{"data":{"values":[{"txt":"F(3,172) = 13.94"}]},"mark":{"type":"text","align":"left","baseline":"middle","font":"Open Sans","fontSize":4.2,"color":"#333333"},"encoding":{"x":{"datum":0.275,"type":"quantitative","scale":{"domain":[0,1],"range":[0,371],"nice":false,"zero":false},"axis":null},"y":{"datum":7,"type":"quantitative","scale":{"domain":[-1,7],"range":[150.6,205],"nice":false,"zero":false},"axis":null},"text":{"field":"txt"}}},
{"data":{"values":[{"txt":"P = 0.00000"}]},"mark":{"type":"text","align":"left","baseline":"middle","font":"Open Sans","fontSize":4.2,"color":"#333333"},"encoding":{"x":{"datum":0.679,"type":"quantitative","scale":{"domain":[0,1],"range":[0,371],"nice":false,"zero":false},"axis":null},"y":{"datum":7,"type":"quantitative","scale":{"domain":[-1,7],"range":[150.6,205],"nice":false,"zero":false},"axis":null},"text":{"field":"txt"}}}
]}
]
}
]}
]
}
